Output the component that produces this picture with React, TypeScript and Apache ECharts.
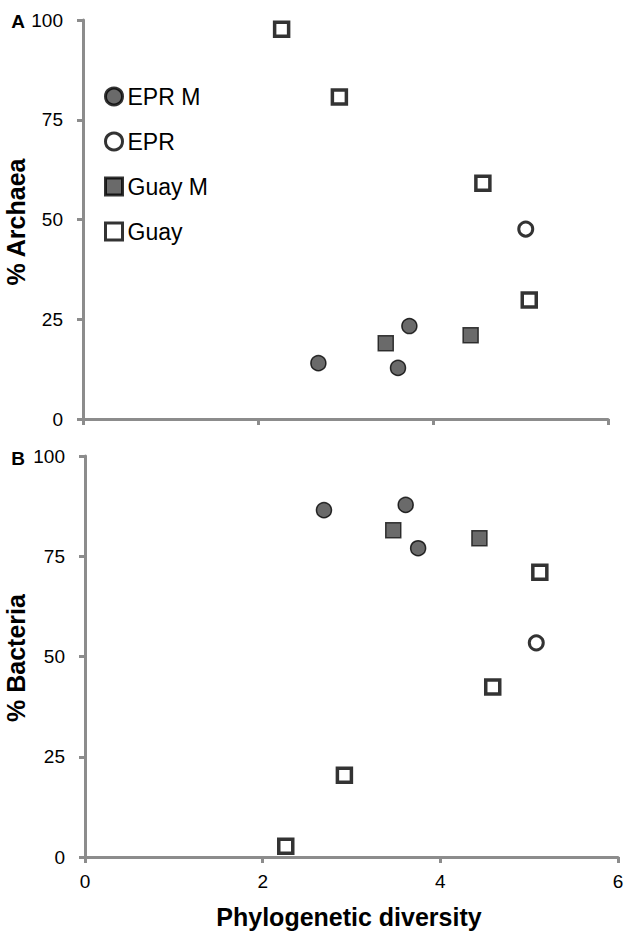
import React, { useEffect, useRef } from 'react';
import * as echarts from 'echarts';

// ---- Data ----
const seriesNames = ['EPR M', 'EPR', 'Guay M', 'Guay'];
const xTickValues = [0, 2, 4, 6];
const yTickValues = [0, 25, 50, 75, 100];

// Panel A: % Archaea vs phylogenetic diversity
const archaeaEprMX = [2.69, 3.6, 3.73];
const archaeaEprMY = [14.0, 12.8, 23.3];
const archaeaEprX = [5.06];
const archaeaEprY = [47.6];
const archaeaGuayMX = [3.46, 4.43];
const archaeaGuayMY = [19.0, 21.0];
const archaeaGuayX = [2.27, 2.93, 4.57, 5.1];
const archaeaGuayY = [97.7, 80.7, 59.1, 29.8];

// Panel B: % Bacteria vs phylogenetic diversity
const bacteriaEprMX = [2.69, 3.61, 3.75];
const bacteriaEprMY = [86.5, 87.8, 77.0];
const bacteriaEprX = [5.08];
const bacteriaEprY = [53.4];
const bacteriaGuayMX = [3.47, 4.44];
const bacteriaGuayMY = [81.5, 79.5];
const bacteriaGuayX = [2.26, 2.92, 4.59, 5.12];
const bacteriaGuayY = [2.7, 20.4, 42.4, 71.0];

const zip = (xs: number[], ys: number[]) => xs.map((x, i) => [x, ys[i]]);

const FONT = 'Liberation Sans';
const DARK = '#454545';
const AXIS = '#8c8c8c';

const markerStyles: Record<string, any> = {
  'EPR M': { symbol: 'circle', symbolSize: 15, itemStyle: { color: DARK, borderColor: '#000', borderWidth: 1.5 } },
  'EPR': { symbol: 'circle', symbolSize: 14, itemStyle: { color: '#fff', borderColor: '#000', borderWidth: 3 } },
  'Guay M': { symbol: 'rect', symbolSize: 15, itemStyle: { color: DARK, borderColor: '#111', borderWidth: 1.5 } },
  'Guay': { symbol: 'rect', symbolSize: 14, itemStyle: { color: '#fff', borderColor: '#000', borderWidth: 3.5 } },
};

export default function App() {
  const ref = useRef<HTMLDivElement>(null);
  useEffect(() => {
    document.body.style.margin = '0';
    if (!ref.current) return;
    const chart = echarts.init(ref.current, null, { renderer: 'svg' });

    const panelA = [
      zip(archaeaEprMX, archaeaEprMY),
      zip(archaeaEprX, archaeaEprY),
      zip(archaeaGuayMX, archaeaGuayMY),
      zip(archaeaGuayX, archaeaGuayY),
    ];
    const panelB = [
      zip(bacteriaEprMX, bacteriaEprMY),
      zip(bacteriaEprX, bacteriaEprY),
      zip(bacteriaGuayMX, bacteriaGuayMY),
      zip(bacteriaGuayX, bacteriaGuayY),
    ];

    const series: any[] = [];
    [panelA, panelB].forEach((panel, gi) => {
      panel.forEach((data, si) => {
        const name = seriesNames[si];
        const st = markerStyles[name];
        series.push({
          type: 'scatter',
          name,
          xAxisIndex: gi,
          yAxisIndex: gi,
          data,
          symbol: st.symbol,
          symbolSize: st.symbolSize,
          itemStyle: st.itemStyle,
          emphasis: { disabled: true },
          z: si === 1 || si === 3 ? 3 : 2,
        });
      });
    });

    const axisLine = { show: true, onZero: false, lineStyle: { color: AXIS, width: 3 } };
    const axisTick = { show: true, length: 6, lineStyle: { color: AXIS, width: 3 } };

    const xAxisBase = (gi: number, showLabel: boolean) => ({
      type: 'value',
      gridIndex: gi,
      min: xTickValues[0],
      max: xTickValues[xTickValues.length - 1],
      interval: xTickValues[1] - xTickValues[0],
      axisLine,
      axisTick,
      splitLine: { show: false },
      axisLabel: { show: showLabel, color: '#000', fontFamily: FONT, fontSize: 19, margin: 15 },
    });
    const yAxisBase = (gi: number) => ({
      type: 'value',
      gridIndex: gi,
      min: yTickValues[0],
      max: yTickValues[yTickValues.length - 1],
      interval: yTickValues[1] - yTickValues[0],
      axisLine,
      axisTick,
      splitLine: { show: false },
      axisLabel: { color: '#000', fontFamily: FONT, fontSize: 19, margin: 20 },
    });

    chart.setOption({
      animation: false,
      backgroundColor: '#fff',
      grid: [
        { left: 83, top: 20, width: 525, height: 399 },
        { left: 85, top: 456, width: 533, height: 401 },
      ],
      xAxis: [xAxisBase(0, false), xAxisBase(1, true)],
      yAxis: [yAxisBase(0), yAxisBase(1)],
      legend: {
        orient: 'vertical',
        left: 104,
        top: 85,
        padding: 0,
        itemWidth: 17,
        itemHeight: 17,
        itemGap: 22,
        selectedMode: false,
        textStyle: { fontFamily: FONT, fontSize: 23, color: '#000', lineHeight: 23 },
        data: seriesNames.map((n) => ({
          name: n,
          icon: markerStyles[n].symbol,
          itemStyle: { ...markerStyles[n].itemStyle, borderColor: '#000', borderWidth: 3 },
        })),
      },
      graphic: [
        { type: 'text', x: 18, y: 21, style: { text: 'A', font: `bold 19px "${FONT}"`, fill: '#000', align: 'center', verticalAlign: 'middle' } },
        { type: 'text', x: 18, y: 458, style: { text: 'B', font: `bold 19px "${FONT}"`, fill: '#000', align: 'center', verticalAlign: 'middle' } },
        { type: 'text', x: 16, y: 222, rotation: Math.PI / 2, style: { text: '% Archaea', font: `bold 25px "${FONT}"`, fill: '#000', align: 'center', verticalAlign: 'middle' } },
        { type: 'text', x: 16, y: 658, rotation: Math.PI / 2, style: { text: '% Bacteria', font: `bold 25px "${FONT}"`, fill: '#000', align: 'center', verticalAlign: 'middle' } },
        { type: 'text', x: 349, y: 917, style: { text: 'Phylogenetic diversity', font: `bold 25px "${FONT}"`, fill: '#000', align: 'center', verticalAlign: 'middle' } },
      ],
      series,
    });
    return () => chart.dispose();
  }, []);
  return <div ref={ref} style={{ width: 630, height: 939 }} />;
}
